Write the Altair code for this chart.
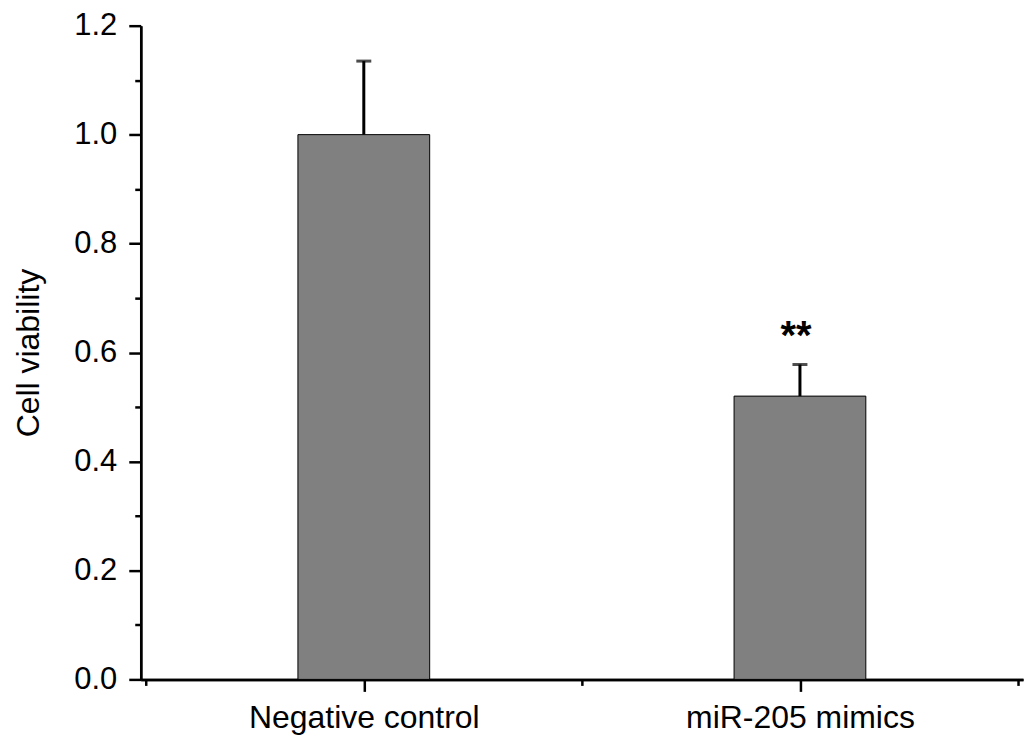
import altair as alt
import pandas as pd

categories = ["Negative control", "miR-205 mimics"]
positions = [1, 2]
values = [1.0, 0.52]
errors = [0.135, 0.058]
marks = ["", "**"]

df = pd.DataFrame({
    "cat": categories,
    "pos": positions,
    "value": values,
    "upper": [v + e for v, e in zip(values, errors)],
    "mark": marks,
})

FONT = "Liberation Sans"
label_expr = " : ".join(
    f"datum.value == {p} ? '{c}'" for p, c in zip(positions, categories)
) + " : ''"

xscale = alt.Scale(domain=[0.5, 2.5], nice=False, zero=False)
yscale = alt.Scale(domain=[0, 1.2], nice=False)

axis_common = dict(
    domainColor="black", domainWidth=2.5, tickColor="black", tickWidth=2.5,
    grid=False, labelFont=FONT, labelColor="black", titleFont=FONT,
    titleColor="black",
)

x_major = alt.X("pos:Q", scale=xscale, title=None, axis=alt.Axis(
    values=positions, tickSize=12, labelExpr=label_expr, labelFontSize=32,
    labelPadding=11, labelFlush=False, labelLimit=0, labelOverlap=False,
    orient="bottom", **axis_common))
y_major = alt.Y("value:Q", scale=yscale, title="Cell viability", axis=alt.Axis(
    values=[0, 0.2, 0.4, 0.6, 0.8, 1.0, 1.2], format=".1f", tickSize=12,
    labelFontSize=31, labelPadding=12, titleFontSize=32, titleFontWeight="normal",
    titlePadding=28, orient="left", labelFlush=False, **axis_common))

bars = alt.Chart(df).mark_bar(size=132, fill="#808080", stroke="black",
                              strokeWidth=1).encode(x=x_major, y=y_major)

x_minor = alt.X("pos:Q", scale=xscale, title=None, axis=alt.Axis(
    values=[0.5, 1.5, 2.5], tickSize=6, labels=False, orient="bottom",
    **axis_common))
y_minor = alt.Y("value:Q", scale=yscale, title=None, axis=alt.Axis(
    values=[0.1, 0.3, 0.5, 0.7, 0.9, 1.1], tickSize=6, labels=False,
    orient="left", **axis_common))

err = alt.Chart(df).mark_rule(color="black", strokeWidth=3).encode(
    x=x_minor, y=y_minor, y2="upper:Q")

cap = alt.Chart(df).mark_tick(orient="horizontal", size=15, thickness=3,
                              color="black").encode(
    x=alt.X("pos:Q", scale=xscale, axis=None),
    y=alt.Y("upper:Q", scale=yscale, axis=None))

stars = alt.Chart(df).mark_text(font=FONT, fontSize=40, fontWeight="bold",
                                baseline="alphabetic", dy=-16, dx=-4,
                                color="black").encode(
    x=alt.X("pos:Q", scale=xscale, axis=None),
    y=alt.Y("upper:Q", scale=yscale, axis=None),
    text="mark:N")

chart = alt.layer(bars, err, cap, stars).resolve_axis(
    x="independent", y="independent"
).properties(
    width=884, height=655,
    autosize=alt.AutoSizeParams(type="none"),
    padding={"left": 133, "top": 17, "right": 5, "bottom": 60},
    background="white",
).configure_view(stroke=None)

chart.save("out.html", embed_options={"renderer": "svg", "actions": False})
